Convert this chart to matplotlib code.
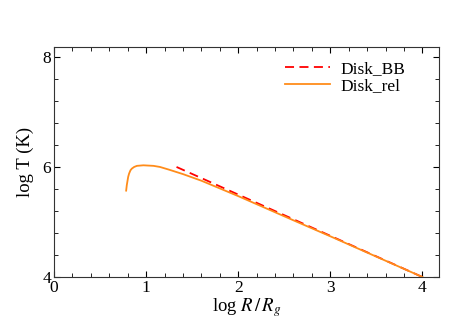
import matplotlib
matplotlib.use('Agg')
import matplotlib.pyplot as plt
from matplotlib.ticker import MultipleLocator

plt.rcParams['font.family'] = ['Liberation Serif', 'DejaVu Serif']
plt.rcParams['mathtext.fontset'] = 'stix'

# Disk_BB: 標準黑體盤溫度
bb_logr = [1.33, 4.0]
bb_logt = [6.0, 4.0]

# Disk_rel: 相對論修正後溫度
rel_logr = [0.783, 0.790, 0.797, 0.805, 0.815, 0.83, 0.845, 0.87, 0.90, 0.97, 1.08,
            1.15, 1.25, 1.4, 1.6, 1.8, 2.0, 2.3, 2.6, 3.0, 3.5, 4.0]
rel_logt = [5.57, 5.67, 5.74, 5.82, 5.88, 5.94, 5.97, 6.0, 6.02, 6.03, 6.02,
            6.0, 5.95, 5.87, 5.75, 5.61, 5.47, 5.25, 5.03, 4.74, 4.37, 4.0]

fig = plt.figure(figsize=(4.58, 3.24), dpi=100)
ax = fig.add_axes([0.118, 0.145, 0.8405, 0.71])

ax.plot(bb_logr, bb_logt, color='red', linestyle=(0, (5, 3)), linewidth=1.3,
        label='Disk_BB')
ax.plot(rel_logr, rel_logt, color='#ff8c1a', linewidth=1.3, label='Disk_rel')

ax.set_xlim(0, 4.18)
ax.set_ylim(4, 8.18)
ax.xaxis.set_major_locator(MultipleLocator(1))
ax.xaxis.set_minor_locator(MultipleLocator(0.2))
ax.yaxis.set_major_locator(MultipleLocator(2))
ax.yaxis.set_minor_locator(MultipleLocator(0.4))
ax.tick_params(which='both', direction='in', top=True, right=True,
               labelsize=12.5, pad=2)
ax.tick_params(which='major', length=4)
ax.tick_params(which='minor', length=3)
for s in ax.spines.values():
    s.set_color('#333333')
    s.set_linewidth(0.8)

ax.set_xlabel(r'log $R\,/\,R_g$', fontsize=13.5, labelpad=0)
ax.set_ylabel('log T (K)', fontsize=13.5, labelpad=6)

ax.legend(loc='upper right', bbox_to_anchor=(0.93, 0.97), borderaxespad=0,
          frameon=False, fontsize=12.5, handlelength=2.6, handletextpad=0.6,
          labelspacing=0.05)

fig.savefig('out.png', dpi=100)
